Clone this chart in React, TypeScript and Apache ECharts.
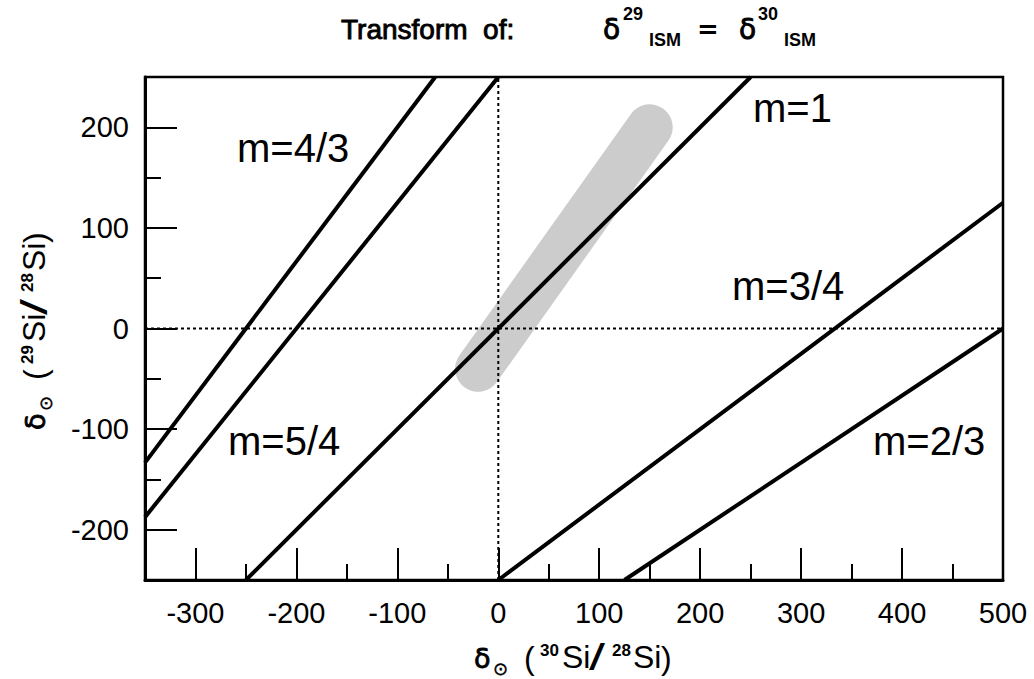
import React, { useEffect, useRef } from "react";
import * as echarts from "echarts";

// ---- data ----
const xMajorTicks = [-300, -200, -100, 0, 100, 200, 300, 400, 500];
const xMinorTicks = [-250, -150, -50, 50, 150, 250, 350, 450];
const yMajorTicks = [-200, -100, 0, 100, 200];
const yMinorTicks = [-250, -150, -50, 50, 150, 250];

const xRange = [-350, 500];
const yRange = [-250, 250];

// lines of constant slope m (endpoints where they meet the frame)
const lineM1 = [[-250, -250], [250, 250]];
const lineM34 = [[0, -250], [500, 125]];
const lineM23 = [[125, -250], [500, 0]];
const lineM43 = [[-350, -133.3], [-62.5, 250]];
const lineM54 = [[-350, -187.5], [0, 250]];

// the gray band (ISM region)
const ismBand = [[-20, -40], [150, 200]];

// zero reference lines
const zeroV = [[0, -250], [0, 250]];
const zeroH = [[-350, 0], [500, 0]];

const slopeLabels = ["m=4/3", "m=5/4", "m=1", "m=3/4", "m=2/3"];

const SANS = "'Liberation Sans', Arial, sans-serif";
const DEJA = "'DejaVu Sans', sans-serif";

// text placed by its left edge and baseline
function tt(
  text: string,
  x: number,
  baseline: number,
  font: string,
  size: number,
  weight = "normal",
  extra: any = {}
) {
  const { stroke, scaleX } = extra;
  const el: any = {
    type: "text",
    x,
    y: baseline - 0.35 * size,
    style: {
      text,
      fill: "#000",
      fontFamily: font,
      fontSize: size,
      fontWeight: weight,
      verticalAlign: "middle",
      align: "left",
    },
  };
  if (stroke) {
    el.style.stroke = "#000";
    el.style.lineWidth = stroke;
  }
  if (scaleX) el.scaleX = scaleX;
  return el;
}

function axisNamePieces(sup1: string, sup2: string) {
  return [
    tt("δ", 0, 0, DEJA, 27, "normal", { stroke: 0.8 }),
    tt("⊙", 19, 7, DEJA, 18, "normal", { stroke: 0.4 }),
    tt("(", 50, 1, SANS, 32),
    tt(sup1, 66, -12, SANS, 17, "bold"),
    tt("Si", 88, 0, SANS, 32),
    tt("/", 115, 2, SANS, 36, "normal", { scaleX: 1.6 }),
    tt(sup2, 138, -12, SANS, 17, "bold"),
    tt("Si", 159, 0, SANS, 32),
    tt(")", 187, 1, SANS, 32),
  ];
}

export default function App() {
  const ref = useRef<HTMLDivElement>(null);

  useEffect(() => {
    document.body.style.margin = "0";
    const chart = echarts.init(ref.current!, null, { renderer: "svg" });

    const blackLine = (data: number[][]) => ({
      type: "line",
      data,
      symbol: "none",
      silent: true,
      lineStyle: { color: "#000", width: 4 },
      z: 4,
    });
    const dotted = (data: number[][]) => ({
      type: "line",
      data,
      symbol: "none",
      silent: true,
      lineStyle: { color: "#000", width: 2, type: [3, 3] },
      z: 3,
    });

    const lbl = (text: string, x: number, baseline: number) => tt(text, x, baseline, SANS, 40);

    const tickStyle = { color: "#000", width: 2 };

    const option: any = {
      animation: false,
      backgroundColor: "#fff",
      grid: {
        left: 145,
        right: 31,
        top: 77,
        bottom: 99,
        show: true,
        borderColor: "#000",
        borderWidth: 2.5,
        backgroundColor: "transparent",
      },
      xAxis: [
        {
          type: "value",
          min: xRange[0],
          max: xRange[1],
          position: "bottom",
          axisLine: { show: true, onZero: false, lineStyle: { color: "#000", width: 3 } },
          axisTick: { show: true, inside: true, length: 32, customValues: xMajorTicks, lineStyle: tickStyle },
          axisLabel: { customValues: xMajorTicks, fontSize: 29, color: "#000", fontFamily: SANS, margin: 18 },
          splitLine: { show: false },
        },
        {
          type: "value",
          min: xRange[0],
          max: xRange[1],
          position: "bottom",
          axisLine: { show: false, onZero: false },
          axisTick: { show: true, inside: true, length: 16, customValues: xMinorTicks, lineStyle: tickStyle },
          axisLabel: { show: false },
          splitLine: { show: false },
        },
      ],
      yAxis: [
        {
          type: "value",
          min: yRange[0],
          max: yRange[1],
          position: "left",
          axisLine: { show: true, onZero: false, lineStyle: { color: "#000", width: 3 } },
          axisTick: { show: true, inside: true, length: 32, customValues: yMajorTicks, lineStyle: tickStyle },
          axisLabel: { customValues: yMajorTicks, fontSize: 29, color: "#000", fontFamily: SANS, margin: 16 },
          splitLine: { show: false },
        },
        {
          type: "value",
          min: yRange[0],
          max: yRange[1],
          position: "left",
          axisLine: { show: false, onZero: false },
          axisTick: { show: true, inside: true, length: 16, customValues: yMinorTicks, lineStyle: tickStyle },
          axisLabel: { show: false },
          splitLine: { show: false },
        },
      ],
      series: [
        {
          type: "line",
          data: ismBand,
          symbol: "none",
          silent: true,
          lineStyle: { color: "#cccccc", width: 46, cap: "round" },
          z: 2,
        },
        dotted(zeroV),
        dotted(zeroH),
        blackLine(lineM1),
        blackLine(lineM34),
        blackLine(lineM23),
        blackLine(lineM43),
        blackLine(lineM54),
      ],
      graphic: [
        // title
        tt("Transform  of:", 341, 39, SANS, 28, "normal", { stroke: 0.9 }),
        tt("δ", 603, 39, DEJA, 28, "normal", { stroke: 0.9 }),
        tt("29", 623, 20, SANS, 18, "bold"),
        tt("ISM", 649, 46, SANS, 18, "bold"),
        tt("=", 697, 38, DEJA, 26, "bold"),
        tt("δ", 739, 39, DEJA, 28, "normal", { stroke: 0.9 }),
        tt("30", 758, 20, SANS, 18, "bold"),
        tt("ISM", 784, 46, SANS, 18, "bold"),
        // slope labels
        lbl(slopeLabels[0], 237, 162),
        lbl(slopeLabels[1], 228, 455),
        lbl(slopeLabels[2], 753, 122),
        lbl(slopeLabels[3], 732, 300),
        lbl(slopeLabels[4], 873, 455),
        // x-axis name
        { type: "group", x: 474, y: 668, children: axisNamePieces("30", "28") },
        // y-axis name
        { type: "group", x: 45, y: 430, rotation: Math.PI / 2, children: axisNamePieces("29", "28") },
      ],
    };

    chart.setOption(option);
    return () => chart.dispose();
  }, []);

  return <div ref={ref} style={{ width: 1034, height: 679 }} />;
}
